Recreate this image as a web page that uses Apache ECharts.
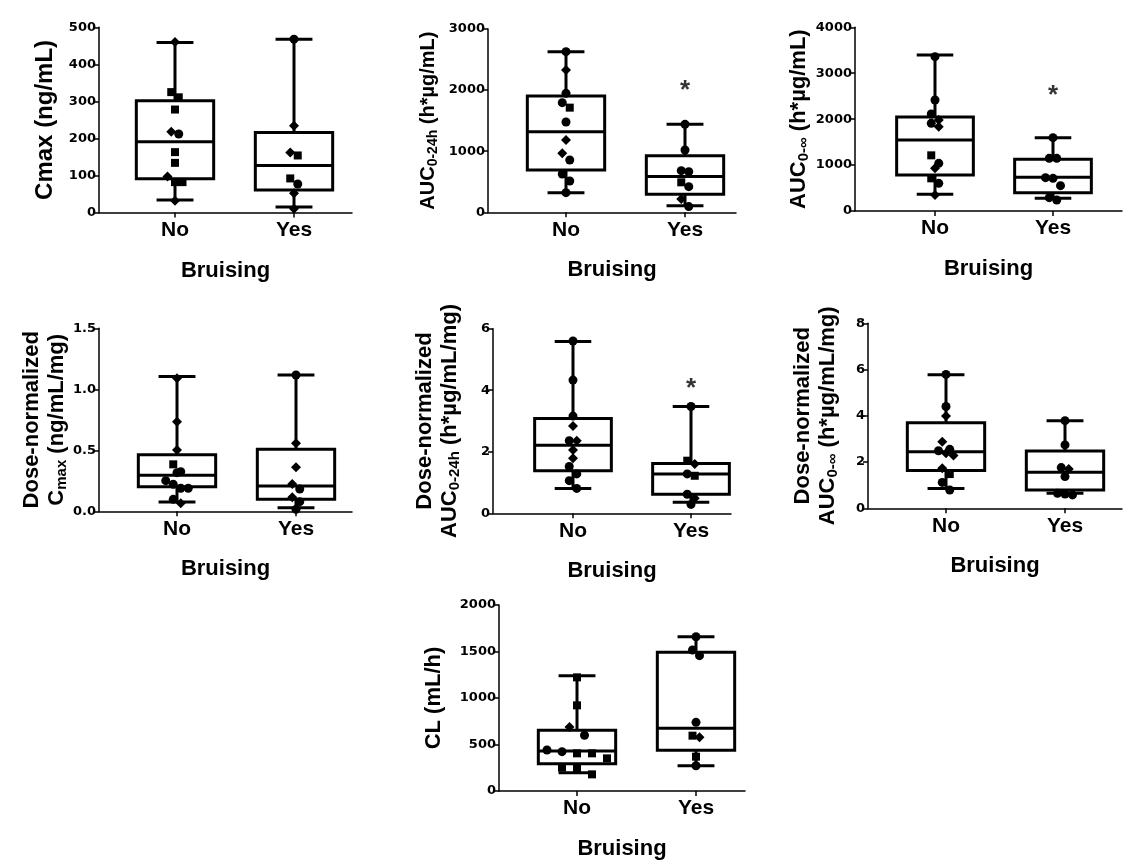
<!DOCTYPE html>
<html><head><meta charset="utf-8">
<script src="https://cdn.jsdelivr.net/npm/echarts@6/dist/echarts.min.js"></script>
<style>html,body{margin:0;padding:0;background:#fff}#c{width:1138px;height:867px}</style>
</head><body><div id="c"></div>
<script>
// ---------------- DATA ----------------
const groups = ['No', 'Yes'];
const xTitle = 'Bruising';

// marker kind per subject: c = circle, s = square, d = diamond
// Panel 1: Cmax (ng/mL)
const cmaxNo = [460, 325, 311, 278, 218, 212, 163, 134, 97, 82, 82, 32];
const cmaxNoKind = ['d','s','s','s','d','c','s','s','d','s','s','d'];
const cmaxYes = [468, 234, 162, 154, 92, 77, 52, 10];
const cmaxYesKind = ['c','d','d','s','s','c','d','d'];
const cmaxBoxNo = [34, 91, 191, 302, 459];      // min, Q1, median, Q3, max
const cmaxBoxYes = [15, 61, 127, 216, 468];
const cmaxTicks = [0, 500, 100];

// Panel 2: AUC0-24h
const auc24No = [2629, 2329, 1947, 1795, 1713, 1478, 1184, 965, 856, 627, 513, 322];
const auc24NoKind = ['c','d','c','c','s','c','d','d','c','c','c','c'];
const auc24Yes = [1440, 1020, 682, 665, 491, 420, 218, 93];
const auc24YesKind = ['c','c','c','c','s','c','d','c'];
const auc24BoxNo = [322, 693, 1320, 1904, 2629];
const auc24BoxYes = [109, 295, 584, 927, 1440];
const auc24Sig = 2080;
const auc24Ticks = [0, 3000, 1000];

// Panel 3: AUC0-inf
const aucInfNo = [3361, 2417, 2113, 1982, 1909, 1837, 1212, 1038, 929, 711, 603, 348];
const aucInfNoKind = ['c','c','c','d','c','d','s','c','d','s','c','d'];
const aucInfYes = [1597, 1147, 1147, 726, 711, 552, 290, 240];
const aucInfYesKind = ['c','c','c','c','c','c','c','c'];
const aucInfBoxNo = [363, 784, 1546, 2047, 3397];
const aucInfBoxYes = [276, 399, 733, 1125, 1597];
const aucInfSig = 2635;
const aucInfTicks = [0, 4000, 1000];

// Panel 4: Dose-normalized Cmax
const dnCmaxNo = [1.09, 0.735, 0.503, 0.385, 0.325, 0.317, 0.251, 0.221, 0.189, 0.189, 0.098, 0.066];
const dnCmaxNoKind = ['d','d','d','s','c','c','c','c','c','c','c','d'];
const dnCmaxYes = [1.117, 0.557, 0.361, 0.224, 0.183, 0.115, 0.079, 0.016];
const dnCmaxYesKind = ['c','d','d','d','c','d','c','c'];
const dnCmaxBoxNo = [0.077, 0.202, 0.295, 0.464, 1.104];
const dnCmaxBoxYes = [0.030, 0.098, 0.208, 0.508, 1.117];
const dnCmaxTicks = [0, 1.5, 0.5];

// Panel 5: Dose-normalized AUC0-24h
const dnAuc24No = [5.60, 4.33, 3.16, 2.84, 2.36, 2.36, 2.06, 1.79, 1.52, 1.28, 1.06, 0.81];
const dnAuc24NoKind = ['c','c','c','d','c','d','d','d','c','c','c','c'];
const dnAuc24Yes = [3.47, 1.71, 1.60, 1.28, 1.22, 0.62, 0.49, 0.29];
const dnAuc24YesKind = ['c','s','d','c','s','c','d','c'];
const dnAuc24BoxNo = [0.81, 1.38, 2.21, 3.08, 5.58];
const dnAuc24BoxYes = [0.36, 0.62, 1.28, 1.62, 3.47];
const dnAuc24Sig = 4.25;
const dnAuc24Ticks = [0, 6, 2];

// Panel 6: Dose-normalized AUC0-inf
const dnAucInfNo = [5.79, 4.40, 3.99, 2.88, 2.55, 2.49, 2.38, 2.28, 1.73, 1.48, 1.12, 0.79];
const dnAucInfNoKind = ['c','c','d','d','c','c','d','d','d','s','c','c'];
const dnAucInfYes = [3.79, 2.74, 1.76, 1.70, 1.37, 0.65, 0.62, 0.58];
const dnAucInfYesKind = ['c','c','c','d','c','c','c','c'];
const dnAucInfBoxNo = [0.86, 1.63, 2.45, 3.70, 5.77];
const dnAucInfBoxYes = [0.65, 0.79, 1.56, 2.48, 3.79];
const dnAucInfTicks = [0, 8, 2];

// Panel 7: CL (mL/h)
const clNo = [1222, 921, 688, 599, 441, 423, 405, 405, 351, 251, 244, 179];
const clNoKind = ['s','s','d','c','c','c','s','s','s','s','s','s'];
const clYes = [1659, 1516, 1455, 738, 595, 577, 369, 272];
const clYesKind = ['c','c','c','c','s','d','s','c'];
const clBoxNo = [197, 294, 430, 652, 1240];
const clBoxYes = [272, 437, 674, 1491, 1659];
const clTicks = [0, 2000, 500];

// ---------------- PANEL DEFINITIONS ----------------
const panels = [
  {title:'{t|Cmax (ng/mL)}', pts:[cmaxNo,cmaxYes], kinds:[cmaxNoKind,cmaxYesKind], box:[cmaxBoxNo,cmaxBoxYes], ticks:cmaxTicks, sig:null, dec:0,
   L:{left:99, top:27.3, right:352, bottom:212.5, c0:175, c1:294, yGap:40, xGap:47, fs:24, step:[7.5,7.5], thr:8}},
  {title:'{t|AUC}{s|0-24h}{t| (h*µg/mL)}', pts:[auc24No,auc24Yes], kinds:[auc24NoKind,auc24YesKind], box:[auc24BoxNo,auc24BoxYes], ticks:auc24Ticks, sig:auc24Sig, dec:0,
   L:{left:488, top:29, right:736, bottom:212.3, c0:566, c1:685, yGap:48, xGap:47, fs:20, step:[7.5,7.5], thr:8}},
  {title:'{t|AUC}{s|0-∞}{t| (h*µg/mL)}', pts:[aucInfNo,aucInfYes], kinds:[aucInfNoKind,aucInfYesKind], box:[aucInfBoxNo,aucInfBoxYes], ticks:aucInfTicks, sig:aucInfSig, dec:0,
   L:{left:855, top:27.3, right:1122, bottom:211, c0:935, c1:1053, yGap:44, xGap:47, fs:22, step:[7.5,7.5], thr:8}},
  {title:'{t|Dose-normalized}\n{t|C}{s|max}{t| (ng/mL/mg)}', pts:[dnCmaxNo,dnCmaxYes], kinds:[dnCmaxNoKind,dnCmaxYesKind], box:[dnCmaxBoxNo,dnCmaxBoxYes], ticks:dnCmaxTicks, sig:null, dec:1,
   L:{left:99, top:328.3, right:352, bottom:511.3, c0:177, c1:296, yGap:29, xGap:47, fs:22, step:[7.5,7.5], thr:8}},
  {title:'{t|Dose-normalized}\n{t|AUC}{s|0-24h}{t| (h*µg/mL/mg)}', pts:[dnAuc24No,dnAuc24Yes], kinds:[dnAuc24NoKind,dnAuc24YesKind], box:[dnAuc24BoxNo,dnAuc24BoxYes], ticks:dnAuc24Ticks, sig:dnAuc24Sig, dec:0,
   L:{left:493, top:328.7, right:731, bottom:513.3, c0:573, c1:691, yGap:31, xGap:47, fs:22, step:[7.5,7.5], thr:8}},
  {title:'{t|Dose-normalized}\n{t|AUC}{s|0-∞}{t| (h*µg/mL/mg)}', pts:[dnAucInfNo,dnAucInfYes], kinds:[dnAucInfNoKind,dnAucInfYesKind], box:[dnAucInfBoxNo,dnAucInfBoxYes], ticks:dnAucInfTicks, sig:null, dec:0,
   L:{left:868, top:323.3, right:1122, bottom:508.3, c0:946, c1:1065, yGap:28, xGap:47, fs:22, step:[7.5,7.5], thr:8}},
  {title:'{t|CL (mL/h)}', pts:[clNo,clYes], kinds:[clNoKind,clYesKind], box:[clBoxNo,clBoxYes], ticks:clTicks, sig:null, dec:0,
   L:{left:499, top:605, right:745, bottom:791, c0:577, c1:696, yGap:53, xGap:47, fs:22, step:[15,7], thr:9}}
];

const FONT = '"Liberation Sans", Arial, sans-serif';
const BOX_W = 0.65, CAP_W = 0.31, LW = 3;
const SYM = {c:'circle', s:'rect', d:'diamond'};
const SYMSIZE = {c:9, s:8, d:10};

// column-scatter layout: points closer than a marker vertically form a row, spread symmetrically
function spread(vals, yMax, plotH, catPx, step, thr){
  const pxPerUnit = plotH / yMax;
  const order = vals.map((v,i)=>i).sort((a,b)=>vals[b]-vals[a]);
  const offs = new Array(vals.length).fill(0);
  let row = [];
  const flush = () => {
    row.forEach((idx, k) => { offs[idx] = (k - (row.length - 1) / 2) * step / catPx; });
    row = [];
  };
  for (const i of order){
    if (row.length && (vals[row[0]] - vals[i]) * pxPerUnit >= thr) flush();
    row.push(i);
  }
  flush();
  return offs;
}

const grid = [], xAxis = [], yAxis = [], series = [];
panels.forEach((p, i) => {
  const L = p.L;
  const s = L.c1 - L.c0;
  grid.push({left:L.left, top:L.top, width:L.right-L.left, height:L.bottom-L.top, containLabel:false});
  xAxis.push({
    gridIndex:i, type:'value', min:(L.left-L.c0)/s, max:(L.right-L.c0)/s,
    axisLine:{show:true, onZero:false, lineStyle:{color:'#000', width:1.5}},
    axisTick:{show:true, customValues:[0,1], length:5, lineStyle:{color:'#000', width:1.5}},
    axisLabel:{show:true, customValues:[0,1], formatter:v => groups[Math.round(v)] || '', color:'#000', fontFamily:FONT, fontWeight:'bold', fontSize:21, margin:7},
    splitLine:{show:false},
    name:xTitle, nameLocation:'middle', nameGap:L.xGap,
    nameTextStyle:{color:'#000', fontFamily:FONT, fontWeight:'bold', fontSize:22}
  });
  yAxis.push({
    gridIndex:i, type:'value', min:p.ticks[0], max:p.ticks[1], interval:p.ticks[2],
    axisLine:{show:true, onZero:false, lineStyle:{color:'#000', width:1.5}},
    axisTick:{show:true, length:5, lineStyle:{color:'#000', width:1.5}},
    axisLabel:{color:'#000', fontFamily:'"DejaVu Sans", sans-serif', fontWeight:'bold', fontSize:13, margin:3,
      formatter:v => v.toFixed(p.dec)},
    splitLine:{show:false},
    name:p.title, nameLocation:'middle', nameRotate:90, nameGap:L.yGap,
    nameTextStyle:{color:'#000', rich:{
      t:{fontFamily:FONT, fontWeight:'bold', fontSize:L.fs, lineHeight:L.fs + 3, color:'#000'},
      s:{fontFamily:FONT, fontWeight:'bold', fontSize:Math.round(L.fs * 0.68), lineHeight:Math.round(L.fs * 0.68), verticalAlign:'bottom', color:'#000'}
    }}
  });
  // boxes
  series.push({
    type:'custom', xAxisIndex:i, yAxisIndex:i, z:2, clip:false,
    data:p.box.map((b, g) => [g].concat(b)),
    renderItem:(params, api) => {
      const x = api.value(0);
      const lo = api.coord([x, api.value(1)]), q1 = api.coord([x, api.value(2)]),
            md = api.coord([x, api.value(3)]), q3 = api.coord([x, api.value(4)]),
            hi = api.coord([x, api.value(5)]);
      const bl = api.coord([x - BOX_W/2, 0])[0], br = api.coord([x + BOX_W/2, 0])[0];
      const cl = api.coord([x - CAP_W/2, 0])[0], cr = api.coord([x + CAP_W/2, 0])[0];
      const st = {stroke:'#000', lineWidth:LW, fill:null};
      return {type:'group', children:[
        {type:'line', shape:{x1:hi[0], y1:hi[1], x2:q3[0], y2:q3[1]}, style:st},
        {type:'line', shape:{x1:lo[0], y1:lo[1], x2:q1[0], y2:q1[1]}, style:st},
        {type:'line', shape:{x1:cl, y1:hi[1], x2:cr, y2:hi[1]}, style:st},
        {type:'line', shape:{x1:cl, y1:lo[1], x2:cr, y2:lo[1]}, style:st},
        {type:'rect', shape:{x:bl, y:q3[1], width:br-bl, height:q1[1]-q3[1]}, style:{stroke:'#000', lineWidth:LW, fill:'#fff'}},
        {type:'line', shape:{x1:bl, y1:md[1], x2:br, y2:md[1]}, style:st}
      ]};
    }
  });
  // points
  const data = [];
  p.pts.forEach((vals, g) => {
    const offs = spread(vals, p.ticks[1], L.bottom - L.top, s, L.step[g], L.thr);
    vals.forEach((v, j) => data.push({value:[g + offs[j], v], kind:p.kinds[g][j]}));
  });
  series.push({
    type:'scatter', xAxisIndex:i, yAxisIndex:i, z:5,
    data:data.map(d => ({value:d.value, symbol:SYM[d.kind], symbolSize:SYMSIZE[d.kind]})),
    itemStyle:{color:'#000', opacity:1}, emphasis:{disabled:true}
  });
  if (p.sig !== null){
    series.push({
      type:'scatter', xAxisIndex:i, yAxisIndex:i, z:5, symbolSize:1, itemStyle:{color:'rgba(0,0,0,0)'},
      data:[[1, p.sig]],
      label:{show:true, position:'inside', formatter:'*', color:'#000', fontFamily:FONT, fontWeight:'bold', fontSize:26, offset:[0,6]}
    });
  }
});

const chart = echarts.init(document.getElementById('c'), null, {renderer:'canvas'});
chart.setOption({animation:false, backgroundColor:'#fff', grid, xAxis, yAxis, series});
</script>
</body></html>
